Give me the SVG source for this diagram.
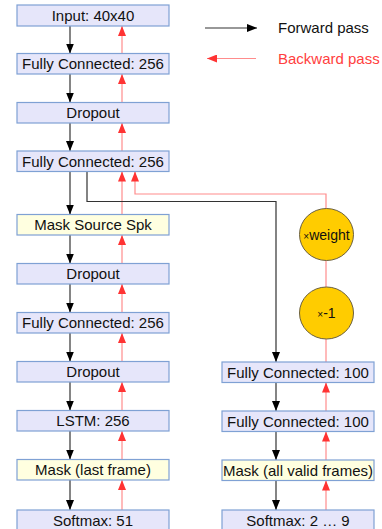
<svg xmlns="http://www.w3.org/2000/svg" width="382" height="529" viewBox="0 0 382 529">
<style>
.box{fill:#e6e6fa;stroke:#7fa1d4;stroke-width:1.2}
.ybox{fill:#ffffe0;stroke:#7fa1d4;stroke-width:1.2}
.t{font-family:"Liberation Sans",Arial,sans-serif;font-size:15px;fill:#111;text-anchor:middle}
.ct{font-family:"Liberation Sans",Arial,sans-serif;font-size:14px;fill:#111;text-anchor:middle}
.x{font-size:10px}
.fw{stroke:#333;stroke-width:1.2;fill:none;marker-end:url(#hb)}
.bw{stroke:#ff8c8c;stroke-width:1.2;fill:none;marker-end:url(#hr)}
.bwn{stroke:#ff8c8c;stroke-width:1.2;fill:none}
.op{fill:#ffcc00;stroke:#6b6040;stroke-width:1}
</style>
<defs>
<marker id="hb" markerUnits="userSpaceOnUse" markerWidth="10" markerHeight="8" refX="10" refY="4" orient="auto"><path d="M0,0 L10,4 L0,8 z" fill="#000"/></marker>
<marker id="hr" markerUnits="userSpaceOnUse" markerWidth="10" markerHeight="8" refX="10" refY="4" orient="auto"><path d="M0,0 L10,4 L0,8 z" fill="#ff3333"/></marker>
</defs>
<g id="legend">
<line class="fw" x1="205" y1="28" x2="257" y2="28"/>
<text x="278" y="33" class="t" style="text-anchor:start">Forward pass</text>
<line class="bw" x1="256" y1="58.5" x2="207" y2="58.5"/>
<text x="278" y="63.5" class="t" style="text-anchor:start;fill:#ff4040">Backward pass</text>
</g>
<g id="connectors">
<line class="fw" x1="70" y1="26" x2="70" y2="53.5"/>
<line class="bw" x1="122" y1="53.5" x2="122" y2="26"/>
<line class="fw" x1="70" y1="74" x2="70" y2="102.5"/>
<line class="bw" x1="122" y1="102.5" x2="122" y2="74"/>
<line class="fw" x1="70" y1="123" x2="70" y2="151"/>
<line class="bw" x1="122" y1="151" x2="122" y2="123"/>
<line class="fw" x1="70" y1="171.5" x2="70" y2="214.5"/>
<line class="bw" x1="122" y1="214.5" x2="122" y2="171.5"/>
<line class="fw" x1="70" y1="235" x2="70" y2="263.5"/>
<line class="bw" x1="122" y1="263.5" x2="122" y2="235"/>
<line class="fw" x1="70" y1="284" x2="70" y2="312.5"/>
<line class="bw" x1="122" y1="312.5" x2="122" y2="284"/>
<line class="fw" x1="70" y1="333" x2="70" y2="361.5"/>
<line class="bw" x1="122" y1="361.5" x2="122" y2="333"/>
<line class="fw" x1="70" y1="382" x2="70" y2="410.5"/>
<line class="bw" x1="122" y1="410.5" x2="122" y2="382"/>
<line class="fw" x1="70" y1="431" x2="70" y2="459.5"/>
<line class="bw" x1="122" y1="459.5" x2="122" y2="431"/>
<line class="fw" x1="70" y1="480" x2="70" y2="510"/>
<line class="bw" x1="122" y1="510" x2="122" y2="480"/>
<polyline class="fw" points="87,171.5 87,201.5 276,201.5 276,362"/>
<polyline class="bw" points="326,209 326,194 135,194 135,171.5"/>
<line class="bwn" x1="326" y1="260.5" x2="326" y2="287.5"/>
<line class="bwn" x1="326" y1="339" x2="326" y2="362"/>
<line class="fw" x1="276" y1="382.5" x2="276" y2="411"/>
<line class="bw" x1="326" y1="411" x2="326" y2="382.5"/>
<line class="fw" x1="276" y1="431.5" x2="276" y2="460"/>
<line class="bw" x1="326" y1="460" x2="326" y2="431.5"/>
<line class="fw" x1="276" y1="480.5" x2="276" y2="510"/>
<line class="bw" x1="326" y1="510" x2="326" y2="480.5"/>
</g>
<g id="input"><rect class="box" x="17" y="5" width="152" height="21"/><text class="t" x="93" y="20.5">Input: 40x40</text></g>
<g id="fc1"><rect class="box" x="17" y="53.5" width="152" height="20.5"/><text class="t" x="93" y="69">Fully Connected: 256</text></g>
<g id="drop1"><rect class="box" x="17" y="102.5" width="152" height="20.5"/><text class="t" x="93" y="118">Dropout</text></g>
<g id="fc2"><rect class="box" x="17" y="151" width="152" height="20.5"/><text class="t" x="93" y="166.5">Fully Connected: 256</text></g>
<g id="masksrc"><rect class="ybox" x="17" y="214.5" width="152" height="20.5"/><text class="t" x="93" y="230">Mask Source Spk</text></g>
<g id="drop2"><rect class="box" x="17" y="263.5" width="152" height="20.5"/><text class="t" x="93" y="279">Dropout</text></g>
<g id="fc3"><rect class="box" x="17" y="312.5" width="152" height="20.5"/><text class="t" x="93" y="328">Fully Connected: 256</text></g>
<g id="drop3"><rect class="box" x="17" y="361.5" width="152" height="20.5"/><text class="t" x="93" y="377">Dropout</text></g>
<g id="lstm"><rect class="box" x="17" y="410.5" width="152" height="20.5"/><text class="t" x="93" y="426">LSTM: 256</text></g>
<g id="masklast"><rect class="ybox" x="17" y="459.5" width="152" height="20.5"/><text class="t" x="93" y="475">Mask (last frame)</text></g>
<g id="softmax51"><rect class="box" x="17" y="510" width="152" height="21"/><text class="t" x="93" y="526">Softmax: 51</text></g>
<g id="weight"><ellipse class="op" cx="326.5" cy="234.5" rx="27" ry="26"/><text class="ct" x="326.5" y="239.5"><tspan class="x">×</tspan>weight</text></g>
<g id="neg"><ellipse class="op" cx="326.5" cy="313" rx="27" ry="26"/><text class="ct" x="326.5" y="318"><tspan class="x">×</tspan>-1</text></g>
<g id="fc100a"><rect class="box" x="222" y="362" width="152" height="20.5"/><text class="t" x="298" y="377.5">Fully Connected: 100</text></g>
<g id="fc100b"><rect class="box" x="222" y="411" width="152" height="20.5"/><text class="t" x="298" y="426.5">Fully Connected: 100</text></g>
<g id="maskall"><rect class="ybox" x="222" y="460" width="152" height="20.5"/><text class="t" x="298" y="475.5">Mask (all valid frames)</text></g>
<g id="softmax29"><rect class="box" x="222" y="510" width="152" height="21"/><text class="t" x="298" y="526">Softmax: 2 … 9</text></g>
</svg>
